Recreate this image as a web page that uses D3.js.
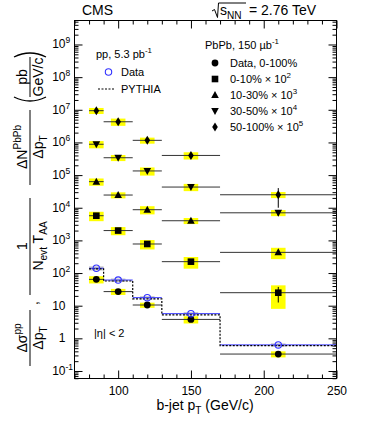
<!DOCTYPE html>
<html>
<head>
<meta charset="utf-8">
<script src="https://cdn.jsdelivr.net/npm/d3@7"></script>
<style>
  body { margin: 0; background: #fff; }
  svg { display: block; }
  text { font-family: "Liberation Sans", Arial, Helvetica, sans-serif; fill: #000; }
</style>
</head>
<body>
<div id="chart"></div>
<script>
// bins in b-jet pT (GeV/c)
var binLo = [80, 90, 110, 130, 170],
    binHi = [90, 110, 130, 170, 250],
    binCenters = [85, 100, 120, 150, 210];

// pp cross section (pb/(GeV/c)) and PYTHIA
var ppData = [140, 61, 17.6, 5.7, 0.63],
    ppSys = [0.15, 0.12, 0.12, 0.12, 0.12],
    pythia = [135, 57, 16.2, 5.2, 0.6];

// PbPb, already divided by the scale factor shown in the legend
var pbpb0to100 = [64, 27, 10.5, 3.8, 0.33],
    pbpb0to10 = [57, 20, 7.76, 2.23, 0.25],
    pbpb10to30 = [63, 24.5, 8.7, 4.0, 0.43],
    pbpb30to50 = [88, 34, 13.4, 4.3, 0.70],
    pbpb50to100 = [94, 43, 11.6, 4.0, 0.25];

var sys0to100 = [0.25, 0.21, 0.18, 0.25, 0.21],
    sys0to10 = [0.32, 0.28, 0.32, 0.39, 0.68],
    sys10to30 = [0.25, 0.21, 0.28, 0.21, 0.38],
    sys30to50 = [0.25, 0.21, 0.28, 0.25, 0.21],
    sys50to100 = [0.21, 0.25, 0.21, 0.25, 0.21];

var stat0to100 = [0.04, 0.05, 0.06, 0.08, 0.12],
    stat0to10 = [0.06, 0.08, 0.1, 0.15, 0.5],
    stat10to30 = [0.05, 0.06, 0.08, 0.1, 0.15],
    stat30to50 = [0.05, 0.06, 0.08, 0.1, 0.2],
    stat50to100 = [0.05, 0.06, 0.08, 0.1, 0.6];

var scaleFactors = [1, 1e2, 1e3, 1e4, 1e5];

var xTickValues = [100, 150, 200, 250],
    yDecades = [-1, 0, 1, 2, 3, 4, 5, 6, 7, 8, 9];

var width = 374, height = 421;
var frameL = 74.5, frameR = 336.5, frameT = 20.5, frameB = 378.5;
var font = '"Liberation Sans", Arial, Helvetica, sans-serif';

var svg = d3.select("#chart").append("svg")
    .attr("width", width)
    .attr("height", height);

var x = d3.scaleLinear().domain([70, 250]).range([frameL, frameR]);
var y = d3.scaleLog().domain([Math.pow(10, -1.23), Math.pow(10, 9.735)]).range([frameB, frameT]);

// text with sub/superscripts: parts = [[text, "sup"|"sub"|undefined], ...]
function rich(sel, px, py, parts, fs, anchor) {
    var t = sel.append("text")
        .attr("x", px).attr("y", py)
        .attr("font-size", fs)
        .attr("text-anchor", anchor || "start");
    var off = 0;
    parts.forEach(function(p) {
        var target = p[1] === "sup" ? -fs * 0.42 : p[1] === "sub" ? fs * 0.3 : 0;
        t.append("tspan")
            .attr("dy", target - off)
            .attr("font-size", p[1] ? fs * 0.72 : fs)
            .text(p[0]);
        off = target;
    });
    return t;
}

// ---- axes (ticks inside the frame, ROOT style)
var xMinor = d3.range(70, 251, 10).filter(function(v) { return v % 50 !== 0; });
var yMinor = [];
for (var k = -2; k <= 9; k++) {
    for (var m = 2; m <= 9; m++) {
        var v = m * Math.pow(10, k);
        if (v > y.domain()[0] && v < y.domain()[1]) yMinor.push(v);
    }
}
var yMajor = yDecades.map(function(d) { return Math.pow(10, d); });

function drawAxis(axis, transform) {
    var g = svg.append("g").attr("transform", transform).call(axis);
    g.select(".domain").remove();
    g.selectAll(".tick line").attr("stroke", "#000");
    return g;
}

var xAxisG = drawAxis(d3.axisBottom(x).tickValues(xTickValues).tickSize(-8).tickPadding(8)
    .tickFormat(d3.format("d")), "translate(0," + frameB + ")");
xAxisG.selectAll("text").attr("font-size", 12).attr("font-family", font);
drawAxis(d3.axisBottom(x).tickValues(xMinor).tickSize(-4).tickFormat(""), "translate(0," + frameB + ")");
drawAxis(d3.axisTop(x).tickValues(xTickValues).tickSize(-8).tickFormat(""), "translate(0," + frameT + ")");
drawAxis(d3.axisTop(x).tickValues(xMinor).tickSize(-4).tickFormat(""), "translate(0," + frameT + ")");

drawAxis(d3.axisLeft(y).tickValues(yMajor).tickSize(-8).tickFormat(""), "translate(" + frameL + ",0)");
drawAxis(d3.axisLeft(y).tickValues(yMinor).tickSize(-4).tickFormat(""), "translate(" + frameL + ",0)");
drawAxis(d3.axisRight(y).tickValues(yMajor).tickSize(-8).tickFormat(""), "translate(" + frameR + ",0)");
drawAxis(d3.axisRight(y).tickValues(yMinor).tickSize(-4).tickFormat(""), "translate(" + frameR + ",0)");

// y tick labels with superscripts
yDecades.forEach(function(d) {
    var py = y(Math.pow(10, d)) + 4;
    if (d === 0) rich(svg, 65.5, py, [["1"]], 12, "end");
    else if (d === 1) rich(svg, 65.5, py, [["10"]], 12, "end");
    else {
        rich(svg, 65.5, py, [["10"]], 12, "end");
        rich(svg, 65.5, py - 5, [[String(d)]], 8.5, "start");
    }
});

// ---- systematic boxes
var boxHalf = 5;
var pbpbSeries = [
    { vals: pbpb0to100, sys: sys0to100, stat: stat0to100, f: scaleFactors[0], mk: "circle" },
    { vals: pbpb0to10, sys: sys0to10, stat: stat0to10, f: scaleFactors[1], mk: "square" },
    { vals: pbpb10to30, sys: sys10to30, stat: stat10to30, f: scaleFactors[2], mk: "up" },
    { vals: pbpb30to50, sys: sys30to50, stat: stat30to50, f: scaleFactors[3], mk: "down" },
    { vals: pbpb50to100, sys: sys50to100, stat: stat50to100, f: scaleFactors[4], mk: "diamond" }
];

function pointsOf(s) {
    return s.vals.map(function(v, i) {
        return { x: binCenters[i], lo: binLo[i], hi: binHi[i], v: v * s.f, sys: s.sys[i], stat: s.stat[i] };
    });
}

pbpbSeries.forEach(function(s) {
    svg.append("g").selectAll("rect")
        .data(pointsOf(s))
        .enter().append("rect")
        .attr("x", function(d) { return x(d.x - boxHalf); })
        .attr("width", function(d) { return x(d.x + boxHalf) - x(d.x - boxHalf); })
        .attr("y", function(d) { return y(d.v * (1 + d.sys)); })
        .attr("height", function(d) { return y(d.v * (1 - d.sys)) - y(d.v * (1 + d.sys)); })
        .attr("fill", "#ffff00");
});

var ppPoints = ppData.map(function(v, i) {
    return { x: binCenters[i], lo: binLo[i], hi: binHi[i], v: v, sys: ppSys[i] };
});
svg.append("g").selectAll("rect")
    .data(ppPoints)
    .enter().append("rect")
    .attr("x", function(d) { return x(d.x - boxHalf); })
    .attr("width", function(d) { return x(d.x + boxHalf) - x(d.x - boxHalf); })
    .attr("y", function(d) { return y(d.v * (1 + d.sys)); })
    .attr("height", function(d) { return y(d.v * (1 - d.sys)) - y(d.v * (1 + d.sys)); })
    .attr("fill", "#cccccc");

// ---- bin-width error bars
pbpbSeries.forEach(function(s) {
    var g = svg.append("g");
    var pts = pointsOf(s);
    g.selectAll("line.h").data(pts).enter().append("line")
        .attr("x1", function(d) { return x(d.lo); })
        .attr("x2", function(d) { return x(d.hi); })
        .attr("y1", function(d) { return y(d.v); })
        .attr("y2", function(d) { return y(d.v); })
        .attr("stroke", "#333").attr("stroke-width", 1);
    g.selectAll("line.v").data(pts).enter().append("line")
        .attr("x1", function(d) { return x(d.x); })
        .attr("x2", function(d) { return x(d.x); })
        .attr("y1", function(d) { return y(d.v * (1 + d.stat)); })
        .attr("y2", function(d) { return y(d.v * (1 - d.stat)); })
        .attr("stroke", "#000").attr("stroke-width", 1);
});

svg.append("g").selectAll("line")
    .data(ppPoints).enter().append("line")
    .attr("x1", function(d) { return x(d.lo); })
    .attr("x2", function(d) { return x(d.hi); })
    .attr("y1", function(d) { return y(d.v); })
    .attr("y2", function(d) { return y(d.v); })
    .attr("stroke", "#3333ff").attr("stroke-width", 1);

// PYTHIA step histogram
var pyStep = [];
pythia.forEach(function(v, i) {
    pyStep.push([binLo[i], v]);
    pyStep.push([binHi[i], v]);
});
svg.append("path")
    .datum(pyStep)
    .attr("d", d3.line().x(function(d) { return x(d[0]); }).y(function(d) { return y(d[1]); }))
    .attr("fill", "none")
    .attr("stroke", "#000")
    .attr("stroke-width", 1.2)
    .attr("stroke-dasharray", "2,1.5");

// ---- markers
function marker(sel, kind, px, py) {
    if (kind === "circle") {
        sel.append("circle").attr("cx", px).attr("cy", py).attr("r", 3.4).attr("fill", "#000");
    } else if (kind === "open") {
        sel.append("circle").attr("cx", px).attr("cy", py).attr("r", 3.2)
            .attr("fill", "none").attr("stroke", "#3333ff").attr("stroke-width", 1.1);
    } else if (kind === "square") {
        sel.append("rect").attr("x", px - 3.3).attr("y", py - 3.3).attr("width", 6.6).attr("height", 6.6).attr("fill", "#000");
    } else if (kind === "up") {
        sel.append("path").attr("d", "M" + px + "," + (py - 4) + "L" + (px + 3.8) + "," + (py + 3) + "L" + (px - 3.8) + "," + (py + 3) + "Z").attr("fill", "#000");
    } else if (kind === "down") {
        sel.append("path").attr("d", "M" + px + "," + (py + 4) + "L" + (px + 3.8) + "," + (py - 3) + "L" + (px - 3.8) + "," + (py - 3) + "Z").attr("fill", "#000");
    } else if (kind === "diamond") {
        sel.append("path").attr("d", "M" + px + "," + (py - 4.5) + "L" + (px + 2.8) + "," + py + "L" + px + "," + (py + 4.5) + "L" + (px - 2.8) + "," + py + "Z").attr("fill", "#000");
    }
}

pbpbSeries.forEach(function(s) {
    pointsOf(s).forEach(function(d) { marker(svg, s.mk, x(d.x), y(d.v)); });
});
ppPoints.forEach(function(d) { marker(svg, "open", x(d.x), y(d.v)); });

// ---- frame
svg.append("rect")
    .attr("x", frameL).attr("y", frameT)
    .attr("width", frameR - frameL).attr("height", frameB - frameT)
    .attr("fill", "none").attr("stroke", "#000").attr("stroke-width", 1);

// ---- legends
rich(svg, 96, 58, [["pp, 5.3 pb"], ["-1", "sup"]], 11);
marker(svg, "open", 108.5, 72);
rich(svg, 121, 76, [["Data"]], 11);
svg.append("line").attr("x1", 98).attr("x2", 114).attr("y1", 89).attr("y2", 89)
    .attr("stroke", "#000").attr("stroke-width", 1.2).attr("stroke-dasharray", "2,1.5");
rich(svg, 121, 93, [["PYTHIA"]], 11);

rich(svg, 205, 49, [["PbPb, 150 \u00b5b"], ["-1", "sup"]], 11);
var pbLabels = [
    [["Data, 0-100%"]],
    [["0-10% \u00d7 10"], ["2", "sup"]],
    [["10-30% \u00d7 10"], ["3", "sup"]],
    [["30-50% \u00d7 10"], ["4", "sup"]],
    [["50-100% \u00d7 10"], ["5", "sup"]]
];
pbLabels.forEach(function(lab, i) {
    var ly = 63 + i * 16;
    marker(svg, pbpbSeries[i].mk, 215, ly);
    rich(svg, 230, ly + 4, lab, 11);
});

rich(svg, 94, 337, [["|\u03b7| < 2"]], 11);

// ---- header
svg.append("text").attr("x", 82).attr("y", 15).attr("font-size", 14).text("CMS");
svg.append("path")
    .attr("d", "M212,11 L214.5,9.5 L217.5,17.5 L218.5,3 L246,3")
    .attr("fill", "none").attr("stroke", "#000").attr("stroke-width", 1);
rich(svg, 220, 15, [["s"], ["NN", "sub"]], 14);
svg.append("text").attr("x", 249).attr("y", 15).attr("font-size", 14).text("= 2.76 TeV");

// ---- x title
rich(svg, 205, 410, [["b-jet p"], ["T", "sub"], [" (GeV/c)"]], 14, "middle");

// ---- y title (rotated)
var yt = svg.append("g").attr("transform", "translate(30,0) rotate(-90)");
function fracLine(a, b) {
    yt.append("line").attr("x1", -a).attr("x2", -b).attr("y1", 0).attr("y2", 0)
        .attr("stroke", "#000").attr("stroke-width", 1);
}
// Δσpp / ΔpT
fracLine(366, 310);
rich(yt, -338, -3, [["\u0394\u03c3"], ["pp", "sup"]], 14, "middle");
rich(yt, -338, 13, [["\u0394p"], ["T", "sub"]], 14, "middle");
rich(yt, -303, 8, [[","]], 14, "middle");
// 1 / (Nevt TAA)
fracLine(295, 198);
rich(yt, -246, -3, [["1"]], 14, "middle");
rich(yt, -246, 13, [["N"], ["evt", "sub"], [" T"], ["AA", "sub"]], 14, "middle");
// ΔN PbPb / ΔpT
fracLine(185, 110);
rich(yt, -147, -3, [["\u0394N"], ["PbPb", "sup"]], 14, "middle");
rich(yt, -147, 13, [["\u0394p"], ["T", "sub"]], 14, "middle");
// (pb / GeV/c)
fracLine(97, 57);
rich(yt, -77, -3, [["pb"]], 14, "middle");
rich(yt, -77, 13, [["GeV/c"]], 14, "middle");
yt.append("path").attr("d", "M-97,-16 Q-105,0 -97,16").attr("fill", "none").attr("stroke", "#000").attr("stroke-width", 1.3);
yt.append("path").attr("d", "M-57,-16 Q-49,0 -57,16").attr("fill", "none").attr("stroke", "#000").attr("stroke-width", 1.3);
</script>
</body>
</html>
